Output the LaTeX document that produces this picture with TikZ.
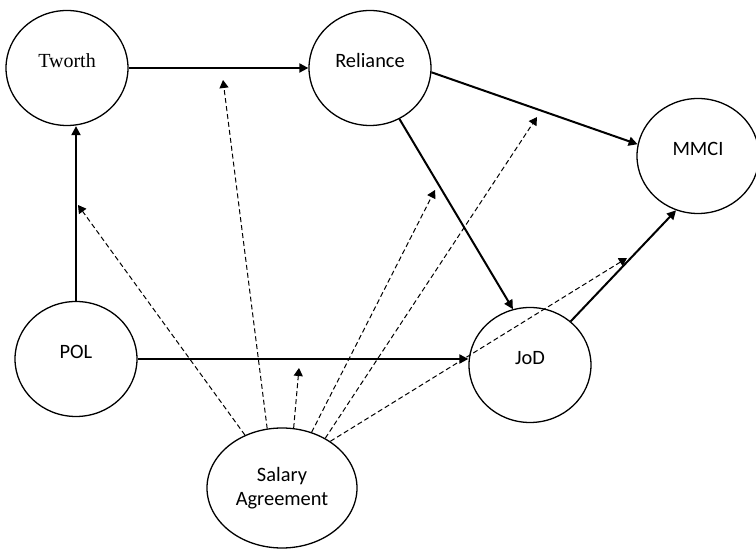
\documentclass[tikz,border=0pt]{standalone}
\usepackage{fontspec}
\setmainfont{Carlito}
\newfontfamily\timesfont{Liberation Serif}
\usetikzlibrary{shapes.geometric, arrows.meta}

\begin{document}
\begin{tikzpicture}[x=0.5pt, y=-0.5pt,
		construct/.style={ellipse, draw, line width=0.65pt, minimum width=61pt, minimum height=57.5pt, inner sep=0pt, font=\fontsize{10.2}{12}\selectfont},
		oneline/.style={text height=6.6pt, text depth=7.4pt},
		effect/.style={-{Triangle[length=4.5pt, width=4.5pt]}, line width=1pt},
		moderation/.style={-{Triangle[length=4pt, width=4.5pt]}, line width=0.5pt, dash pattern=on 2.5pt off 1.5pt}]
		
		\useasboundingbox (0, 0) rectangle (756, 550);
		
		% Constructs
		\node[construct, oneline, font=\timesfont\fontsize{10}{12}\selectfont] (tworth) at (67, 68) {Tworth};
		\node[construct, oneline] (rel) at (370, 68) {Reliance};
		\node[construct, oneline] (mmci) at (698, 156) {MMCI};
		\node[construct, oneline] (pol) at (76, 359) {POL};
		\node[construct, oneline] (jod) at (530, 365) {JoD};
		\node[construct, minimum width=75pt, minimum height=60pt, align=center] (sal) at (282, 488) {Salary\\Agreement};
		
		% Direct paths
		\draw[effect] (tworth) -- (rel);
		\draw[effect] (pol.north) -- (pol.north |- tworth.south);
		\draw[effect] (pol.east) -- (pol.east -| jod.west);
		\draw[effect] (rel.-4) -- (mmci.169);
		\draw[effect] (rel.-60) -- (jod.107);
		\draw[effect] (jod.47) -- (mmci.248);
		
		% Points hit by the moderator
		\coordinate (mPT) at (78, 205);
		\coordinate (mTR) at (223, 80);
		\coordinate (mPJ) at (299, 368);
		\coordinate (mRJ) at (435, 190);
		\coordinate (mRM) at (537, 117);
		\coordinate (mJM) at (627, 258);
		
		% Moderating arrows
		\draw[moderation] (sal.125) -- (mPT);
		\draw[moderation] (sal.104) -- (mTR);
		\draw[moderation] (sal.79) -- (mPJ);
		\draw[moderation] (sal.62) -- (mRJ);
		\draw[moderation] (sal.49) -- (mRM);
		\draw[moderation] (sal.44) -- (mJM);
	\end{tikzpicture}
\end{document}
